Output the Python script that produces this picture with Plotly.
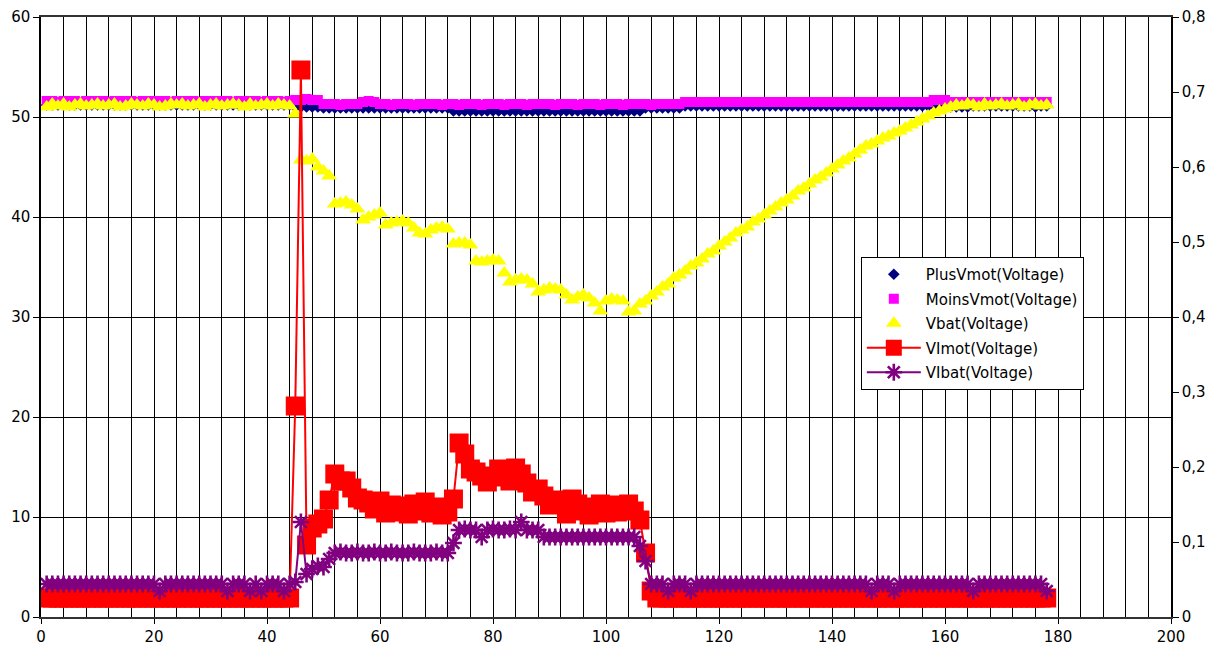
import plotly.graph_objects as go

x_index = list(range(1, 179))

plus_vmot = [
    51.2, 51.2, 51.2, 51.2, 51.2, 51.2, 51.2, 51.2, 51.2, 51.2,
    51.2, 51.2, 51.2, 51.2, 51.2, 51.2, 51.2, 51.2, 51.2, 51.2,
    51.2, 51.2, 51.2, 51.2, 51.2, 51.2, 51.2, 51.2, 51.2, 51.2,
    51.2, 51.2, 51.2, 51.2, 51.2, 51.2, 51.2, 51.2, 51.2, 51.2,
    51.2, 51.2, 51.2, 51.2, 51.0, 51.0, 51.0, 51.0, 51.0, 50.9,
    50.9, 50.9, 50.9, 50.9, 50.9, 50.9, 50.9, 50.9, 50.9, 50.9,
    50.9, 50.9, 50.9, 50.9, 50.9, 50.9, 50.9, 50.9, 50.9, 50.9,
    50.9, 50.9, 50.6, 50.6, 50.6, 50.6, 50.6, 50.6, 50.6, 50.6,
    50.6, 50.6, 50.6, 50.6, 50.6, 50.6, 50.6, 50.6, 50.6, 50.6,
    50.6, 50.6, 50.6, 50.6, 50.6, 50.6, 50.6, 50.6, 50.6, 50.6,
    50.6, 50.6, 50.6, 50.6, 50.6, 50.6, 50.9, 50.9, 50.9, 50.9,
    50.9, 50.9, 50.9, 51.1, 51.1, 51.1, 51.1, 51.1, 51.1, 51.1,
    51.1, 51.1, 51.1, 51.1, 51.1, 51.1, 51.1, 51.1, 51.1, 51.1,
    51.1, 51.1, 51.1, 51.1, 51.1, 51.1, 51.1, 51.1, 51.1, 51.1,
    51.1, 51.1, 51.1, 51.1, 51.1, 51.1, 51.1, 51.1, 51.1, 51.1,
    51.1, 51.1, 51.1, 51.1, 51.1, 51.1, 51.1, 51.1, 51.1, 51.1,
    51.0, 51.0, 51.0, 51.0, 51.1, 51.1, 51.1, 51.1, 51.1, 51.1,
    51.1, 51.1, 51.1, 51.1, 51.1, 51.0, 51.1, 51.1,
]

moins_vmot = [
    51.6, 51.6, 51.5, 51.6, 51.6, 51.6, 51.5, 51.6, 51.6, 51.6,
    51.6, 51.5, 51.6, 51.6, 51.6, 51.6, 51.5, 51.6, 51.6, 51.6,
    51.6, 51.6, 51.5, 51.6, 51.6, 51.6, 51.6, 51.5, 51.6, 51.6,
    51.6, 51.6, 51.6, 51.5, 51.6, 51.6, 51.6, 51.6, 51.5, 51.6,
    51.6, 51.6, 51.5, 51.6, 51.7, 51.7, 51.8, 51.7, 51.7, 51.3,
    51.3, 51.3, 51.2, 51.3, 51.3, 51.3, 51.5, 51.6, 51.5, 51.3,
    51.3, 51.2, 51.3, 51.3, 51.3, 51.2, 51.3, 51.3, 51.3, 51.3,
    51.2, 51.3, 51.3, 51.2, 51.3, 51.3, 51.3, 51.2, 51.3, 51.3,
    51.3, 51.2, 51.3, 51.3, 51.3, 51.2, 51.3, 51.3, 51.3, 51.3,
    51.2, 51.3, 51.3, 51.3, 51.2, 51.3, 51.3, 51.3, 51.2, 51.3,
    51.3, 51.3, 51.2, 51.3, 51.3, 51.3, 51.3, 51.2, 51.3, 51.3,
    51.3, 51.3, 51.3, 51.5, 51.5, 51.5, 51.5, 51.5, 51.5, 51.5,
    51.5, 51.5, 51.5, 51.5, 51.5, 51.5, 51.5, 51.5, 51.5, 51.5,
    51.5, 51.5, 51.5, 51.5, 51.5, 51.5, 51.5, 51.5, 51.5, 51.5,
    51.5, 51.5, 51.5, 51.5, 51.5, 51.5, 51.5, 51.5, 51.5, 51.5,
    51.5, 51.5, 51.5, 51.5, 51.5, 51.5, 51.5, 51.7, 51.7, 51.7,
    51.5, 51.5, 51.5, 51.5, 51.5, 51.5, 51.5, 51.5, 51.5, 51.5,
    51.5, 51.5, 51.5, 51.5, 51.5, 51.5, 51.5, 51.5,
]

vbat = [
    51.0, 51.3, 51.1, 51.3, 51.0, 51.2, 51.3, 51.1, 51.2, 51.3,
    51.1, 51.2, 51.3, 51.0, 51.1, 51.3, 51.2, 51.1, 51.3, 51.2,
    51.0, 51.1, 51.3, 51.2, 51.3, 51.1, 51.2, 51.3, 51.0, 51.2,
    51.3, 51.1, 51.2, 51.3, 51.2, 51.0, 51.3, 51.1, 51.2, 51.3,
    51.1, 51.3, 51.2, 51.1, 50.3, 45.7, 45.6, 45.8, 45.0, 44.6,
    44.1, 41.3, 41.4, 41.5, 41.2, 40.8, 39.7, 40.0, 40.2, 40.4,
    39.2, 39.4, 39.5, 39.6, 39.4, 38.9, 38.4, 38.3, 38.7, 38.9,
    39.0, 38.8, 37.3, 37.4, 37.4, 37.2, 35.6, 35.5, 35.6, 35.7,
    35.6, 34.4, 33.5, 33.7, 33.8, 33.7, 33.3, 32.5, 32.7, 32.9,
    32.8, 32.7, 32.2, 31.7, 32.0, 32.2, 31.9, 31.4, 30.6, 31.6,
    31.8, 31.7, 31.6, 30.5, 30.6, 31.3, 31.6, 32.1, 32.5, 33.0,
    33.3, 33.9, 34.2, 34.6, 35.1, 35.4, 35.8, 36.3, 36.6, 37.1,
    37.5, 37.9, 38.4, 38.7, 39.0, 39.5, 39.8, 40.2, 40.6, 41.0,
    41.4, 41.7, 42.1, 42.6, 42.9, 43.3, 43.7, 44.0, 44.4, 44.8,
    45.2, 45.6, 45.9, 46.3, 46.7, 47.1, 47.3, 47.6, 47.9, 48.1,
    48.4, 48.6, 48.9, 49.2, 49.5, 49.8, 50.1, 50.4, 50.6, 50.8,
    51.0, 51.2, 51.1, 51.3, 51.2, 51.0, 51.3, 51.1, 51.2, 51.3,
    51.1, 51.2, 51.3, 51.0, 51.2, 51.3, 51.1, 51.2,
]

vimot = [
    1.9, 1.9, 1.9, 1.9, 1.9, 1.9, 1.9, 1.9, 1.9, 1.9,
    1.9, 1.9, 1.9, 1.9, 1.9, 1.9, 1.9, 1.9, 1.9, 1.9,
    1.9, 1.9, 1.9, 1.9, 1.9, 1.9, 1.9, 1.9, 1.9, 1.9,
    1.9, 1.9, 1.9, 1.9, 1.9, 1.9, 1.9, 1.9, 1.9, 1.9,
    1.9, 1.9, 1.9, 1.9, 21.1, 54.7, 7.2, 8.9, 9.3, 9.8,
    11.7, 14.3, 13.6, 13.6, 12.9, 11.9, 11.7, 11.4, 10.8, 11.6,
    10.4, 11.2, 10.5, 11.1, 10.3, 11.3, 10.6, 11.5, 10.4, 11.0,
    10.2, 10.5, 11.8, 17.4, 16.3, 14.8, 14.5, 14.1, 13.5, 14.0,
    14.8, 14.6, 13.6, 14.9, 14.3, 13.4, 12.5, 12.8, 12.1, 11.2,
    11.6, 11.7, 10.3, 11.8, 11.3, 10.6, 10.2, 11.0, 11.3, 10.4,
    11.2, 10.5, 11.0, 11.3, 10.6, 9.7, 6.4, 2.6, 1.9, 1.9,
    1.9, 1.9, 1.9, 1.9, 1.9, 1.9, 1.9, 1.9, 1.9, 1.9,
    1.9, 1.9, 1.9, 1.9, 1.9, 1.9, 1.9, 1.9, 1.9, 1.9,
    1.9, 1.9, 1.9, 1.9, 1.9, 1.9, 1.9, 1.9, 1.9, 1.9,
    1.9, 1.9, 1.9, 1.9, 1.9, 1.9, 1.9, 1.9, 1.9, 1.9,
    1.9, 1.9, 1.9, 1.9, 1.9, 1.9, 1.9, 1.9, 1.9, 1.9,
    1.9, 1.9, 1.9, 1.9, 1.9, 1.9, 1.9, 1.9, 1.9, 1.9,
    1.9, 1.9, 1.9, 1.9, 1.9, 1.9, 1.9, 1.9,
]

vibat = [
    3.3, 3.3, 3.3, 3.3, 3.3, 3.3, 3.3, 3.3, 3.3, 3.3,
    3.3, 3.3, 3.3, 3.3, 3.3, 3.3, 3.3, 3.3, 3.3, 3.3,
    2.6, 3.3, 3.3, 3.3, 3.3, 3.3, 3.3, 3.3, 3.3, 3.3,
    3.3, 3.3, 2.6, 3.3, 3.3, 3.3, 2.6, 3.3, 2.6, 3.3,
    3.3, 3.3, 2.6, 3.3, 3.5, 9.5, 4.3, 4.8, 5.1, 5.0,
    5.8, 6.4, 6.5, 6.4, 6.4, 6.5, 6.4, 6.4, 6.5, 6.4,
    6.4, 6.5, 6.4, 6.4, 6.4, 6.5, 6.4, 6.4, 6.4, 6.5,
    6.4, 6.4, 7.4, 8.7, 8.8, 8.7, 8.7, 8.0, 8.7, 8.8,
    8.7, 8.7, 8.8, 8.7, 9.5, 8.7, 8.7, 8.7, 8.0, 8.0,
    8.0, 8.0, 8.0, 8.0, 8.0, 8.0, 8.0, 8.0, 8.0, 8.0,
    8.0, 8.0, 8.0, 8.0, 8.0, 7.1, 5.6, 3.3, 3.3, 3.3,
    2.6, 3.3, 3.3, 3.3, 2.6, 3.3, 3.3, 3.3, 3.3, 3.3,
    3.3, 3.3, 3.3, 3.3, 3.3, 3.3, 3.3, 3.3, 3.3, 3.3,
    3.3, 3.3, 3.3, 3.3, 3.3, 3.3, 3.3, 3.3, 3.3, 3.3,
    3.3, 3.3, 3.3, 3.3, 3.3, 3.3, 2.6, 3.3, 3.3, 3.3,
    2.6, 3.3, 3.3, 3.3, 3.3, 3.3, 3.3, 3.3, 3.3, 3.3,
    3.3, 3.3, 3.3, 3.3, 2.6, 3.3, 3.3, 3.3, 3.3, 3.3,
    3.3, 3.3, 3.3, 3.3, 3.3, 3.3, 3.3, 2.6,
]

series_names = ["PlusVmot(Voltage)", "MoinsVmot(Voltage)", "Vbat(Voltage)",
                "VImot(Voltage)", "VIbat(Voltage)"]

right_tick_vals = [0, 0.1, 0.2, 0.3, 0.4, 0.5, 0.6, 0.7, 0.8]
right_tick_text = ["0", "0,1", "0,2", "0,3", "0,4", "0,5", "0,6", "0,7", "0,8"]

FONT = "DejaVu Sans, Liberation Sans, Arial, sans-serif"

fig = go.Figure()

fig.add_trace(go.Scatter(
    x=x_index, y=plus_vmot, name=series_names[0], mode="markers",
    legendgroup="g1",
    marker=dict(symbol="diamond", size=9, color="#000080"),
))
fig.add_trace(go.Scatter(
    x=x_index, y=moins_vmot, name=series_names[1], mode="markers",
    legendgroup="g2",
    marker=dict(symbol="square", size=10, color="#FF00FF"),
))
fig.add_trace(go.Scatter(
    x=x_index, y=vbat, name=series_names[2], mode="markers",
    legendgroup="g3",
    marker=dict(symbol="triangle-up", size=14, color="#FFFF00"),
))
fig.add_trace(go.Scatter(
    x=x_index, y=vimot, name=series_names[3], mode="lines+markers",
    legendgroup="g4",
    line=dict(color="#FF0000", width=2),
    marker=dict(symbol="square", size=19, color="#FF0000"),
))
fig.add_trace(go.Scatter(
    x=x_index, y=vibat, name=series_names[4], mode="lines+markers",
    legendgroup="g5",
    line=dict(color="#800080", width=2),
    marker=dict(symbol="asterisk-open", size=14, color="#800080",
                line=dict(color="#800080", width=2.6)),
))
# invisible trace to anchor the secondary axis
fig.add_trace(go.Scatter(
    x=[None], y=[None], yaxis="y2", showlegend=False, hoverinfo="skip",
    mode="markers",
))

fig.update_layout(
    width=1207, height=650,
    margin=dict(l=41, r=36, t=17, b=33),
    paper_bgcolor="white", plot_bgcolor="white",
    font=dict(family=FONT, size=15, color="black"),
    showlegend=True,
    legend=dict(
        x=0.7255, y=0.60, xanchor="left", yanchor="top",
        bgcolor="white", bordercolor="black", borderwidth=1,
        font=dict(family=FONT, size=15, color="black"),
        tracegroupgap=2, itemwidth=54,
    ),
    xaxis=dict(
        range=[0, 200], dtick=20, tick0=0, automargin=False,
        showgrid=True, gridcolor="black", gridwidth=1,
        minor=dict(tickmode="linear", tick0=0, dtick=4, showgrid=True,
                   gridcolor="black", gridwidth=1),
        showline=True, linecolor="#333333", linewidth=1.5, mirror=True,
        ticks="outside", ticklen=5, tickcolor="black",
        zeroline=False,
        tickfont=dict(family=FONT, size=15),
    ),
    yaxis=dict(
        range=[0, 60], dtick=10, tick0=0, automargin=False,
        showgrid=True, gridcolor="black", gridwidth=1,
        showline=True, linecolor="black", linewidth=1.5,
        ticks="outside", ticklen=6, tickcolor="black",
        zeroline=False,
        tickfont=dict(family=FONT, size=15),
    ),
    yaxis2=dict(
        overlaying="y", side="right", range=[0, 0.8], automargin=False,
        tickvals=right_tick_vals, ticktext=right_tick_text,
        showgrid=False, zeroline=False,
        showline=True, linecolor="black", linewidth=1.5,
        ticks="outside", ticklen=6, tickcolor="black",
        tickfont=dict(family=FONT, size=15),
    ),
)

fig.write_html(
    "out.html",
    config={"displayModeBar": False},
    post_script="document.body.style.margin='0';document.body.style.overflow='hidden';",
)
